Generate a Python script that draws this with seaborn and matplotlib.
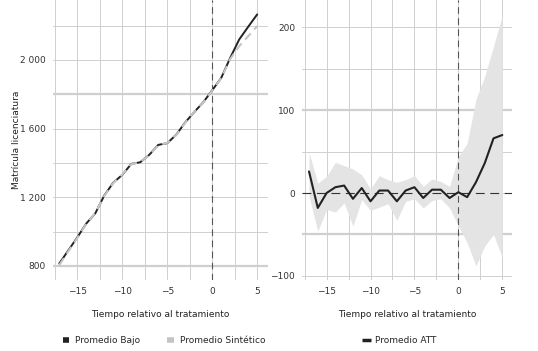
import numpy as np
import pandas as pd
import seaborn as sns
import matplotlib.pyplot as plt
from matplotlib.ticker import FuncFormatter, MultipleLocator
from matplotlib.lines import Line2D

# data
tiempo = list(range(-17, 6))
bajo = [814, 890, 966, 1047, 1106, 1210, 1285, 1330, 1394, 1404, 1447, 1505, 1515,
        1564, 1636, 1696, 1753, 1823, 1895, 2012, 2119, 2193, 2265]
sintetico = [805, 885, 962, 1045, 1108, 1207, 1283, 1332, 1392, 1406, 1445, 1503, 1517,
             1562, 1634, 1698, 1751, 1821, 1893, 2005, 2080, 2138, 2197]
att = [26, -18, 0, 7, 9, -7, 6, -10, 3, 3, -10, 3, 7, -6, 4, 4, -6, 1, -5, 13, 36, 66, 70]
att_hi = [49, 12, 20, 37, 33, 29, 22, 5, 21, 16, 13, 16, 21, 8, 17, 14, 8, 44, 60, 113, 141, 177, 215]
att_lo = [-4, -46, -20, -23, -12, -40, -8, -21, -17, -13, -33, -10, -7, -18, -9, -7, -18, -40, -60, -88, -64, -50, -78]

df = pd.DataFrame({'t': tiempo, 'bajo': bajo, 'sint': sintetico,
                   'att': att, 'hi': att_hi, 'lo': att_lo})

sns.set_style('white')
plt.rcParams['font.family'] = ['Liberation Sans Narrow', 'DejaVu Sans']
plt.rcParams['font.size'] = 6.5

fig = plt.figure(figsize=(5.38, 3.51), dpi=100)
ax1 = fig.add_axes([0.0985, 0.2023, 0.3996, 0.7977])
ax2 = fig.add_axes([0.5613, 0.2023, 0.3903, 0.7977])

grid_kw = dict(color='#cfcfcf', linewidth=0.7)
for ax in (ax1, ax2):
    ax.xaxis.set_major_locator(MultipleLocator(5))
    ax.xaxis.set_minor_locator(MultipleLocator(2.5))
    ax.grid(True, which='both', **grid_kw)
    ax.set_axisbelow(True)
    for s in ax.spines.values():
        s.set_visible(False)
    ax.tick_params(axis='both', which='major', length=3, color='#555555',
                   labelsize=6.5, labelcolor='#333333', pad=2)
    ax.tick_params(axis='both', which='minor', length=0)
    ax.axvline(0, color='#555555', lw=0.8, ls=(0, (6, 4)))

# left panel
sns.lineplot(data=df, x='t', y='bajo', ax=ax1, color='#222222', lw=1.4, zorder=2)
sns.lineplot(data=df, x='t', y='sint', ax=ax1, color='#c4c4c4', lw=1.5,
             linestyle=(0, (4, 2.5)), zorder=3)
ax1.set_xlim(-17.7, 6.2)
ax1.set_ylim(718, 2349)
ax1.yaxis.set_major_locator(MultipleLocator(400))
ax1.yaxis.set_minor_locator(MultipleLocator(200))
ax1.yaxis.set_major_formatter(FuncFormatter(lambda v, p: f'{int(v):,}'.replace(',', ' ')))
ax1.axhline(1800, color='#cfcfcf', lw=1.6, zorder=0)
ax1.axhline(800, color='#cfcfcf', lw=1.6, zorder=0)
ax1.set_ylabel('Matrícula licenciatura', fontsize=6.5, color='#222222')
ax1.yaxis.set_label_coords(-0.15, 0.5)
ax1.set_xlabel('Tiempo relativo al tratamiento', fontsize=6.5, color='#222222', labelpad=10)

# right panel
ax2.fill_between(df['t'], df['lo'], df['hi'], color='#e4e4e4', lw=0, zorder=1)
ax2.axhline(0, color='#333333', lw=0.8, ls=(0, (8, 5)), zorder=2)
sns.lineplot(data=df, x='t', y='att', ax=ax2, color='#222222', lw=1.5, zorder=3)
ax2.set_xlim(-17.8, 6.1)
ax2.set_ylim(-105, 233)
ax2.yaxis.set_major_locator(MultipleLocator(100))
ax2.yaxis.set_minor_locator(MultipleLocator(50))
ax2.axhline(100, color='#cfcfcf', lw=1.6, zorder=0)
ax2.axhline(-50, color='#cfcfcf', lw=1.6, zorder=0)
ax2.set_ylabel('')
ax2.set_xlabel('Tiempo relativo al tratamiento', fontsize=6.5, color='#222222', labelpad=10)

# legends
h1 = [Line2D([], [], color='#222222', lw=4, solid_capstyle='butt'),
      Line2D([], [], color='#c4c4c4', lw=4, solid_capstyle='butt')]
fig.legend(h1, ['Promedio Bajo', 'Promedio Sintético'], loc='center',
           bbox_to_anchor=(0.305, 0.03), ncol=2, frameon=False, fontsize=6.5,
           handlelength=0.7, columnspacing=3, handletextpad=0.7)
h2 = [Line2D([], [], color='#222222', lw=2.5, solid_capstyle='butt')]
fig.legend(h2, ['Promedio ATT'], loc='center', bbox_to_anchor=(0.742, 0.03),
           frameon=False, fontsize=6.5, handlelength=1.0, handletextpad=0.5)

fig.savefig('out.png', dpi=100)
